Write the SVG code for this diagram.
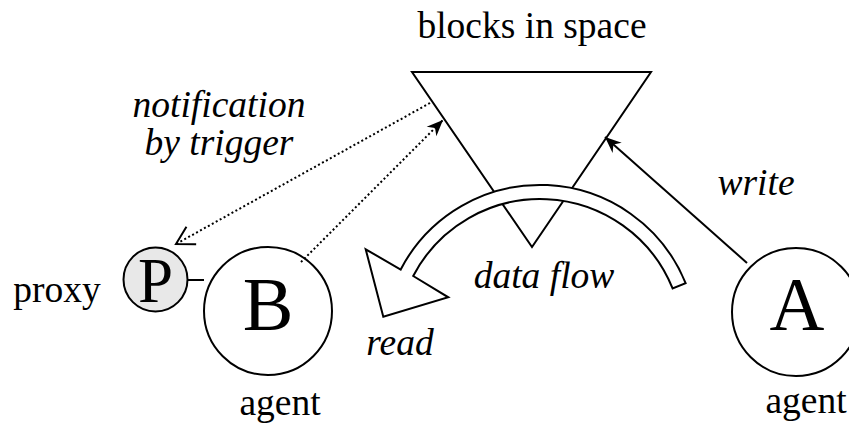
<svg xmlns="http://www.w3.org/2000/svg" width="849" height="429" viewBox="0 0 849 429">
<style>
.shape{fill:#fff;stroke:#000;stroke-width:2}
text{font-family:'Liberation Serif','Tinos','DejaVu Serif','Times New Roman',serif}
.lbl{font-size:37.5px;fill:#000;text-anchor:middle}
.it{font-style:italic}
.big{font-size:76px;fill:#000;text-anchor:middle}
.dot{fill:none;stroke:#000;stroke-width:2;stroke-dasharray:2 2.5}
.solid{fill:none;stroke:#000;stroke-width:2}
</style>
<defs>
<marker id="fillHead" markerUnits="userSpaceOnUse" markerWidth="20" markerHeight="20" viewBox="-14 -7 16 14" refX="0" refY="0" orient="auto" overflow="visible">
<path d="M0,0 L-13,-5.5 L-9,0 L-13,5.5 Z" fill="#000" stroke="none"/>
</marker>
<marker id="openHead" markerUnits="userSpaceOnUse" markerWidth="24" markerHeight="24" viewBox="-20 -12 22 24" refX="0" refY="0" orient="auto" overflow="visible">
<path d="M-17.5,-10 L0,0 L-17.5,10" fill="none" stroke="#000" stroke-width="2"/>
</marker>
</defs>

<g id="space">
<polygon class="shape" points="412,72 651,72 532,247"/>
<text class="lbl" font-family="Liberation Serif, serif" x="532" y="38">blocks in space</text>
</g>

<g id="dataflow">
<path class="shape" d="M685.6,283.2 A157,157 0 0 0 400.7,269.5 L365.7,249.3 L383.3,316.7 L448.3,297.3 L413.2,276 A143,143 0 0 1 672.6,288.4 Z"/>
<text class="lbl it" font-family="Liberation Serif, serif" x="544" y="288">data flow</text>
</g>

<g id="agentB">
<circle class="shape" cx="268" cy="311" r="64"/>
<text class="big" font-family="Liberation Serif, serif" x="268" y="330">B</text>
<text class="lbl" font-family="Liberation Serif, serif" x="280" y="415">agent</text>
</g>

<g id="proxyP">
<circle cx="155.5" cy="279.5" r="32" fill="#e8e8e8" stroke="#000" stroke-width="2"/>
<text class="big" font-family="Liberation Serif, serif" style="font-size:63px" x="155.5" y="302">P</text>
<text class="lbl" font-family="Liberation Serif, serif" x="57" y="302">proxy</text>
</g>

<g id="agentA">
<circle class="shape" cx="796" cy="312" r="64"/>
<text class="big" font-family="Liberation Serif, serif" x="797" y="330">A</text>
<text class="lbl" font-family="Liberation Serif, serif" x="806" y="413">agent</text>
</g>

<g id="connectors">
<line class="solid" x1="188" y1="280" x2="204" y2="280"/>
<line class="dot" x1="430" y1="103" x2="176" y2="244" marker-end="url(#openHead)"/>
<line class="dot" x1="301" y1="262" x2="443" y2="120" marker-end="url(#fillHead)"/>
<line class="solid" x1="747" y1="263" x2="605" y2="137" marker-end="url(#fillHead)"/>
</g>

<g id="labels">
<text class="lbl it" font-family="Liberation Serif, serif" x="219" y="117">notification</text>
<text class="lbl it" font-family="Liberation Serif, serif" x="219" y="155">by trigger</text>
<text class="lbl it" font-family="Liberation Serif, serif" x="756" y="195">write</text>
<text class="lbl it" font-family="Liberation Serif, serif" x="400" y="355">read</text>
</g>
</svg>
